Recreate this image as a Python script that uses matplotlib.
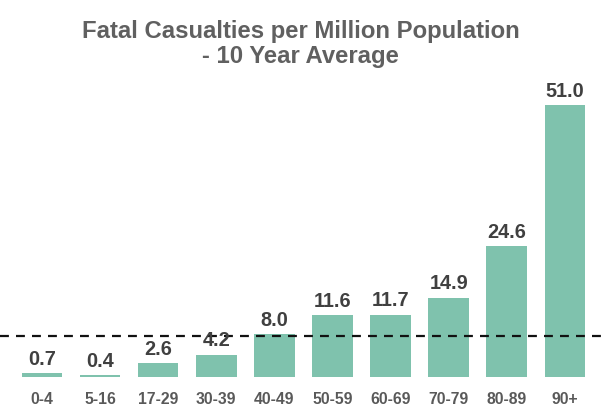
import numpy as np
import matplotlib
matplotlib.use('Agg')
import matplotlib.pyplot as plt

plt.rcParams['font.family'] = ['Liberation Sans', 'DejaVu Sans']

age_groups = ['0-4', '5-16', '17-29', '30-39', '40-49', '50-59', '60-69', '70-79', '80-89', '90+']
fatal_per_million = [0.7, 0.4, 2.6, 4.2, 8.0, 11.6, 11.7, 14.9, 24.6, 51.0]
average_line = 7.7

fig = plt.figure(figsize=(6.01, 4.09), dpi=100)
ax = fig.add_axes([0, 32 / 409, 1, (377 - 88) / 409])

x = np.arange(len(age_groups))
bars = ax.bar(x, fatal_per_million, width=0.7, color='#7fc2ad')
ax.axhline(average_line, color='#111111', linestyle=(0, (4, 3.2)), linewidth=1.6)

for xi, v in zip(x, fatal_per_million):
    ax.annotate(f'{v:.1f}', (xi, v), xytext=(0, 3), textcoords='offset points',
                ha='center', va='bottom', fontsize=14.3, fontweight='bold', color='#404040')

ax.set_xlim(-0.72, 9.62)
ax.set_ylim(0, (377 - 88) / 5.33)
ax.set_xticks(x)
ax.set_xticklabels(age_groups, fontsize=11.3, fontweight='bold', color='#595959')
ax.tick_params(axis='x', length=0, pad=11)
ax.set_yticks([])
for s in ax.spines.values():
    s.set_visible(False)

fig.text(0.5, 1 - 44 / 409, 'Fatal Casualties per Million Population\n- 10 Year Average',
         ha='center', va='center', fontsize=17.2, fontweight='bold', color='#606060',
         linespacing=1.1)

fig.savefig('out.png', dpi=100)
